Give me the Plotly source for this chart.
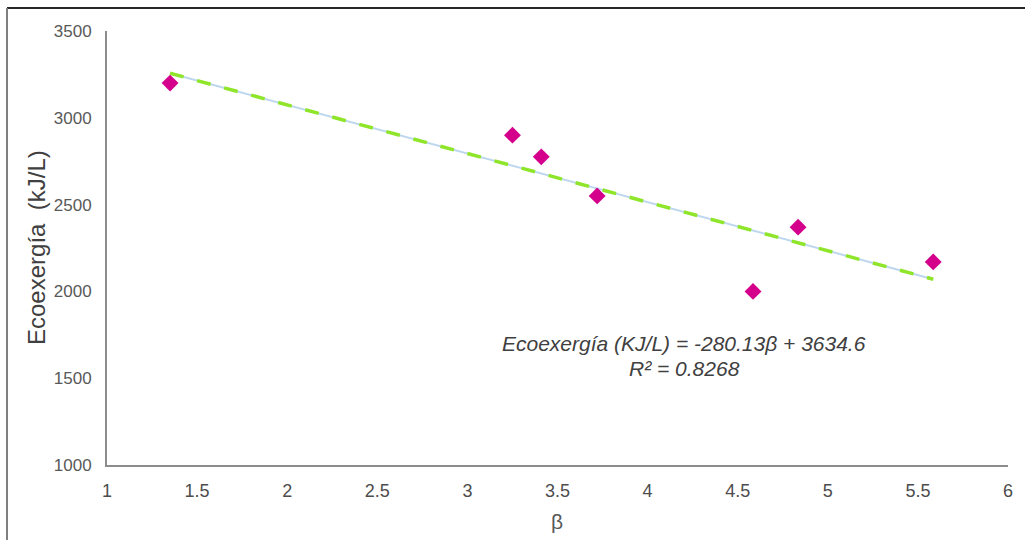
import numpy as np
import plotly.graph_objects as go

beta = [1.35, 3.25, 3.41, 3.72, 4.585, 4.835, 5.585]
ecoexergia = [3200, 2900, 2775, 2550, 2000, 2370, 2170]
slope = -280.13
intercept = 3634.6
r2 = 0.8268
x_ticks = [1, 1.5, 2, 2.5, 3, 3.5, 4, 4.5, 5, 5.5, 6]
y_ticks = [1000, 1500, 2000, 2500, 3000, 3500]

tx = np.array([min(beta), max(beta)])
ty = slope * tx + intercept

fig = go.Figure()
fig.add_trace(go.Scatter(x=tx, y=ty, mode="lines",
                         line=dict(color="#BDD7EE", width=2), hoverinfo="skip"))
fig.add_trace(go.Scatter(x=tx, y=ty, mode="lines",
                         line=dict(color="#8EE52A", width=3.5, dash="14px,14px"), hoverinfo="skip"))
fig.add_trace(go.Scatter(x=beta, y=ecoexergia, mode="markers",
                         marker=dict(symbol="diamond", size=13, color="#D4008C")))

L, T, W, H = 107, 31, 901, 434

def px(xp):
    return (xp - L) / W

def py(yp):
    return 1 - (yp - T) / H

fig.update_layout(
    width=1025, height=540,
    margin=dict(l=L, r=1025 - L - W, t=T, b=540 - T - H),
    paper_bgcolor="white", plot_bgcolor="white",
    showlegend=False,
    font=dict(family="Liberation Sans, Arial, sans-serif"),
    xaxis=dict(range=[1, 6], tickvals=x_ticks, ticktext=[f"{v:g}" for v in x_ticks],
               showgrid=False, zeroline=False, showline=True, linecolor="#8C8C8C", linewidth=2,
               ticks="", tickfont=dict(size=18, color="#4D4D4D"), ticklabelstandoff=8),
    yaxis=dict(range=[1000, 3500], tickvals=y_ticks,
               showgrid=False, zeroline=False, showline=True, linecolor="#8C8C8C", linewidth=2,
               ticks="", tickfont=dict(size=17, color="#595959"), ticklabelstandoff=10),
    annotations=[
        dict(text="Ecoexergía  (kJ/L)", xref="paper", yref="paper", x=px(36), y=py(248),
             xanchor="center", yanchor="middle",
             textangle=-90, showarrow=False, font=dict(size=24, color="#404040")),
        dict(text="β", xref="paper", yref="paper", x=px(557), y=py(521),
             xanchor="center", yanchor="middle",
             showarrow=False, font=dict(size=21, color="#595959")),
        dict(text=f"<i>Ecoexergía (KJ/L) = {slope:.2f}β + {intercept:.1f}</i>",
             xref="paper", yref="paper", x=px(684), y=py(343),
             xanchor="center", yanchor="middle",
             showarrow=False, font=dict(size=21, color="#404040")),
        dict(text=f"<i>R² = {r2:.4f}</i>",
             xref="paper", yref="paper", x=px(684), y=py(368),
             xanchor="center", yanchor="middle",
             showarrow=False, font=dict(size=21, color="#404040")),
    ],
    shapes=[
        dict(type="line", xref="paper", yref="paper", x0=px(7), x1=px(1025), y0=py(8), y1=py(8),
             line=dict(color="#262626", width=2)),
        dict(type="line", xref="paper", yref="paper", x0=px(7), x1=px(7), y0=py(8), y1=py(545),
             line=dict(color="#7F7F7F", width=2)),
    ],
)

fig.write_html("out.html")
